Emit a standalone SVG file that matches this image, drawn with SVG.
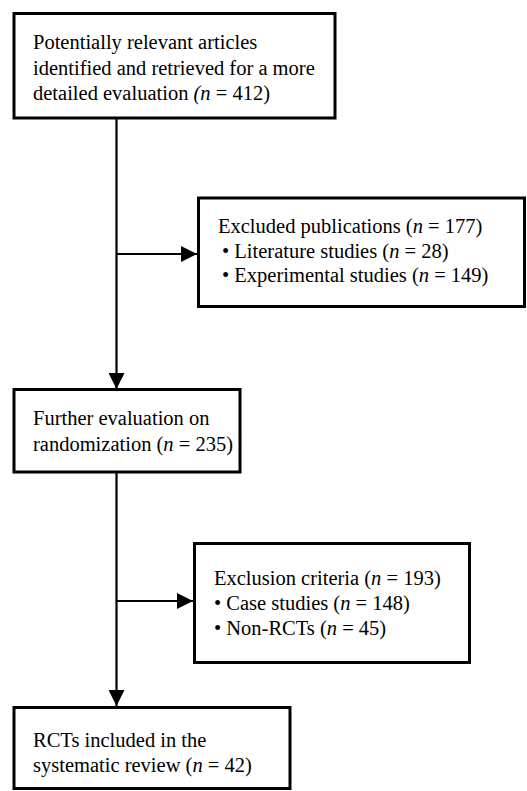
<svg xmlns="http://www.w3.org/2000/svg" width="527" height="791" viewBox="0 0 527 791">
<style>
.box{fill:#fff;stroke:#000;stroke-width:3}
.t{font-family:"Liberation Serif","Times New Roman",serif;font-size:20.5px;fill:#000}
.i{font-style:italic}
.c{stroke:#000;stroke-width:2.2;fill:none}
</style>
<defs>
<marker id="ah" markerUnits="userSpaceOnUse" markerWidth="16" markerHeight="16" viewBox="0 0 15 15" refX="15" refY="7.5" orient="auto">
<path d="M0,0 L15,7.5 L0,15 Z" fill="#000"/>
</marker>
</defs>
<rect width="527" height="791" fill="#fff"/>
<g id="connectors">
<line class="c" x1="116.5" y1="118" x2="116.5" y2="389" marker-end="url(#ah)"/>
<line class="c" x1="116.5" y1="254" x2="197" y2="254" marker-end="url(#ah)"/>
<line class="c" x1="116.5" y1="472" x2="116.5" y2="706" marker-end="url(#ah)"/>
<line class="c" x1="116.5" y1="601" x2="193" y2="601" marker-end="url(#ah)"/>
</g>
<g id="n1">
<rect class="box" x="14" y="13.5" width="321" height="104.5"/>
<text class="t" x="33" y="49">Potentially relevant articles</text>
<text class="t" x="33" y="74.5">identified and retrieved for a more</text>
<text class="t" x="33" y="100">detailed evaluation <tspan class="i">(n</tspan> = 412)</text>
</g>
<g id="n2">
<rect class="box" x="198.5" y="198" width="326" height="108.5"/>
<text class="t" x="218" y="233">Excluded publications (<tspan class="i">n</tspan> = 177)</text>
<text class="t" x="222" y="257.5">• Literature studies (<tspan class="i">n</tspan> = 28)</text>
<text class="t" x="222" y="282">• Experimental studies (<tspan class="i">n</tspan> = 149)</text>
</g>
<g id="n3">
<rect class="box" x="14" y="389.5" width="226" height="82.5"/>
<text class="t" x="33" y="425">Further evaluation on</text>
<text class="t" x="33" y="451">randomization (<tspan class="i">n</tspan> = 235)</text>
</g>
<g id="n4">
<rect class="box" x="194.5" y="543.5" width="275" height="119"/>
<text class="t" x="214" y="585">Exclusion criteria (<tspan class="i">n</tspan> = 193)</text>
<text class="t" x="214" y="610">• Case studies (<tspan class="i">n</tspan> = 148)</text>
<text class="t" x="214" y="635">• Non-RCTs (<tspan class="i">n</tspan> = 45)</text>
</g>
<g id="n5">
<rect class="box" x="14" y="707.5" width="276" height="81"/>
<text class="t" x="33" y="747">RCTs included in the</text>
<text class="t" x="33" y="772">systematic review (<tspan class="i">n</tspan> = 42)</text>
</g>
</svg>
